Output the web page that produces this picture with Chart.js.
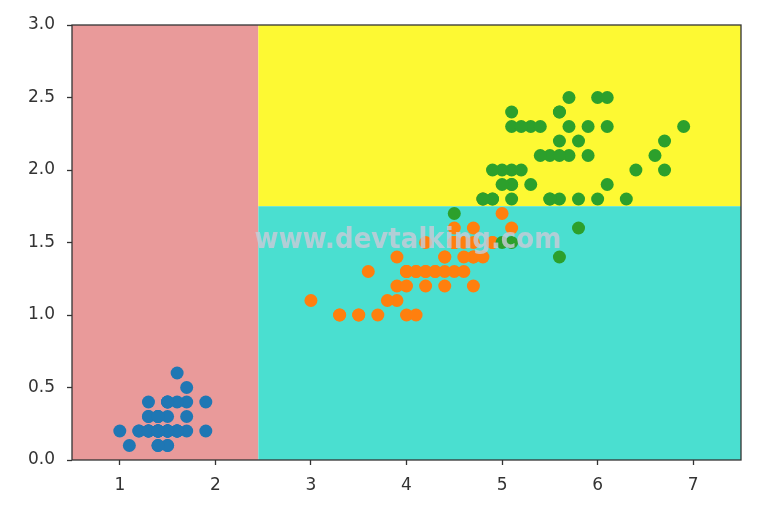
<!DOCTYPE html>
<html><head><meta charset="utf-8">
<script src="https://cdn.jsdelivr.net/npm/chart.js@4/dist/chart.umd.min.js"></script>
<style>html,body{margin:0;padding:0;background:#fff}#wrap{width:772px;height:508px}</style>
</head><body><div id="wrap"><canvas id="c" width="772" height="508"></canvas></div>
<script>
// iris petal length (x) / petal width (y)
const setosaX = [1.4,1.4,1.3,1.5,1.4,1.7,1.4,1.5,1.4,1.5,1.5,1.6,1.4,1.1,1.2,1.5,1.3,1.4,1.7,1.5,1.7,1.5,1.0,1.7,1.9,1.6,1.6,1.5,1.4,1.6,1.6,1.5,1.5,1.4,1.5,1.2,1.3,1.4,1.3,1.5,1.3,1.3,1.3,1.6,1.9,1.4,1.6,1.4,1.5,1.4];
const setosaY = [0.2,0.2,0.2,0.2,0.2,0.4,0.3,0.2,0.2,0.1,0.2,0.2,0.1,0.1,0.2,0.4,0.4,0.3,0.3,0.3,0.2,0.4,0.2,0.5,0.2,0.2,0.4,0.2,0.2,0.2,0.2,0.4,0.1,0.2,0.2,0.2,0.2,0.1,0.2,0.2,0.3,0.3,0.2,0.6,0.4,0.3,0.2,0.2,0.2,0.2];
const versiX = [4.7,4.5,4.9,4.0,4.6,4.5,4.7,3.3,4.6,3.9,3.5,4.2,4.0,4.7,3.6,4.4,4.5,4.1,4.5,3.9,4.8,4.0,4.9,4.7,4.3,4.4,4.8,5.0,4.5,3.5,3.8,3.7,3.9,5.1,4.5,4.5,4.7,4.4,4.1,4.0,4.4,4.6,4.0,3.3,4.2,4.2,4.2,4.3,3.0,4.1];
const versiY = [1.4,1.5,1.5,1.3,1.5,1.3,1.6,1.0,1.3,1.4,1.0,1.5,1.0,1.4,1.3,1.4,1.5,1.0,1.5,1.1,1.8,1.3,1.5,1.2,1.3,1.4,1.4,1.7,1.5,1.0,1.1,1.0,1.2,1.6,1.5,1.6,1.5,1.3,1.3,1.3,1.2,1.4,1.2,1.0,1.3,1.2,1.3,1.3,1.1,1.3];
const virgX = [6.0,5.1,5.9,5.6,5.8,6.6,4.5,6.3,5.8,6.1,5.1,5.3,5.5,5.0,5.1,5.3,5.5,6.7,6.9,5.0,5.7,4.9,6.7,4.9,5.7,6.0,4.8,4.9,5.6,5.8,6.1,6.4,5.6,5.1,5.6,6.1,5.6,5.5,4.8,5.4,5.6,5.1,5.1,5.9,5.7,5.2,5.0,5.2,5.4,5.1];
const virgY = [2.5,1.9,2.1,1.8,2.2,2.1,1.7,1.8,1.8,2.5,2.0,1.9,2.1,2.0,2.4,2.3,1.8,2.2,2.3,1.5,2.3,2.0,2.0,1.8,2.1,1.8,1.8,1.8,2.1,1.6,1.9,2.0,2.2,1.5,1.4,2.3,2.4,1.8,1.8,2.1,2.4,2.3,1.9,2.3,2.5,2.3,1.9,2.0,2.3,1.8];
// decision boundaries
const splitX = 2.45;
const splitY = 1.75;
const xTicks = [1,2,3,4,5,6,7];
const yTicks = [0.0,0.5,1.0,1.5,2.0,2.5,3.0];
const watermark = "www.devtalking.com";

const pts = (xs, ys) => xs.map((x, i) => ({x, y: ys[i]}));

const regionPlugin = {
  id: 'regions',
  beforeDatasetsDraw(chart) {
    const {ctx, chartArea: a, scales: {x, y}} = chart;
    const px = x.getPixelForValue(splitX), py = y.getPixelForValue(splitY);
    ctx.save();
    ctx.fillStyle = '#E99A9A';
    ctx.fillRect(a.left, a.top, px - a.left, a.bottom - a.top);
    ctx.fillStyle = '#FDF933';
    ctx.fillRect(px, a.top, a.right - px, py - a.top);
    ctx.fillStyle = '#4ADFD0';
    ctx.fillRect(px, py, a.right - px, a.bottom - py);
    ctx.restore();
  },
  afterDatasetsDraw(chart) {
    const {ctx, chartArea: a} = chart;
    ctx.save();
    ctx.strokeStyle = '#333';
    ctx.lineWidth = 1.3;
    ctx.strokeRect(a.left, a.top, a.right - a.left, a.bottom - a.top);
    ctx.font = 'bold 29px "DejaVu Sans Condensed"';
    ctx.fillStyle = 'rgba(200,202,215,0.82)';
    ctx.textAlign = 'center';
    ctx.textBaseline = 'alphabetic';
    ctx.fillText(watermark, 408, 248);
    ctx.restore();
  }
};

new Chart(document.getElementById('c'), {
  type: 'scatter',
  data: {
    datasets: [
      {data: pts(setosaX, setosaY), backgroundColor: '#1f77b4', borderWidth: 0, pointRadius: 6.5, order: 2},
      {data: pts(versiX, versiY), backgroundColor: '#ff7f0e', borderWidth: 0, pointRadius: 6.5, order: 1},
      {data: pts(virgX, virgY), backgroundColor: '#2ca02c', borderWidth: 0, pointRadius: 6.5, order: 0}
    ]
  },
  options: {
    responsive: false,
    animation: false,
    layout: {padding: {left: 0, top: 25, right: 31, bottom: 0}},
    plugins: {legend: {display: false}, tooltip: {enabled: false}},
    scales: {
      x: {
        type: 'linear', min: 0.5, max: 7.5,
        afterBuildTicks: s => { s.ticks = xTicks.map(v => ({value: v})); },
        afterFit: s => { s.height = 48; },
        border: {display: false},
        grid: {display: true, drawOnChartArea: false, drawTicks: true, tickLength: 5, color: '#333', tickWidth: 1.3},
        ticks: {color: '#333', font: {family: 'DejaVu Sans', size: 17}, padding: 10, maxRotation: 0}
      },
      y: {
        type: 'linear', min: 0, max: 3,
        afterBuildTicks: s => { s.ticks = yTicks.map(v => ({value: v})); },
        afterFit: s => { s.width = 72; },
        border: {display: false},
        grid: {display: true, drawOnChartArea: false, drawTicks: true, tickLength: 5, color: '#333', tickWidth: 1.3},
        ticks: {color: '#333', font: {family: 'DejaVu Sans', size: 17}, padding: 12, callback: v => v.toFixed(1)}
      }
    }
  },
  plugins: [regionPlugin]
});
</script></body></html>
